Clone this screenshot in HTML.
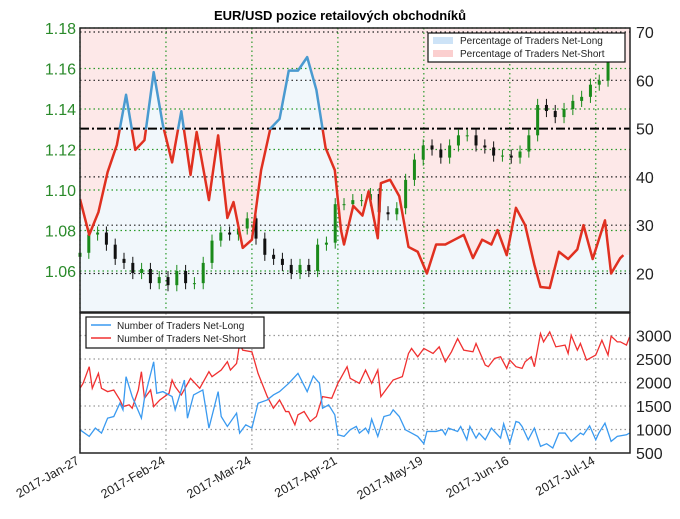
<!DOCTYPE html>
<html><head><meta charset="utf-8"><style>
html,body{margin:0;padding:0;background:#fff;}
svg{display:block;font-family:"Liberation Sans",sans-serif;}
</style></head><body>
<svg id="chart" width="680" height="519" viewBox="0 0 680 519">
<defs>
<clipPath id="topClip"><rect x="80" y="28" width="550" height="284"/></clipPath>
<clipPath id="aboveClip"><rect x="80" y="0" width="550" height="129.6"/></clipPath>
<clipPath id="belowClip"><rect x="80" y="129.6" width="550" height="200"/></clipPath>
<clipPath id="botClip"><rect x="80" y="313" width="550" height="140"/></clipPath>
</defs>
<text x="340" y="20" text-anchor="middle" font-size="13" font-weight="bold">EUR/USD pozice retailových obchodníků</text>
<g id="topPanel"></g>
<g id="botPanel"></g>
<g id="xlabels"></g>
</svg>
<script>
const dateLabels=["2017-Jan-27","2017-Feb-24","2017-Mar-24","2017-Apr-21","2017-May-19","2017-Jun-16","2017-Jul-14"];
const dateDays=[0,28,56,84,112,140,168];
const priceTicks=[1.06,1.08,1.10,1.12,1.14,1.16,1.18];
const pctTicks=[20,30,40,50,60,70];
const cntTicks=[500,1000,1500,2000,2500,3000];
const pctLong=[[0,35.4],[3,28],[6,32.7],[9,41],[12,46.6],[15,57],[18,45.6],[21,47.6],[24,61.7],[27,50.7],[30,43],[33,53.6],[36,40.4],[38,49.3],[42,35.2],[45,48.6],[48,31.5],[50,34.8],[53,25.3],[56,27],[59,41.4],[62,50],[65,52],[68,62],[71,62],[74,64.8],[77,58],[80,46],[83,41.4],[85,29],[86,26],[89,34],[92,32],[94,37],[97,27.3],[98,38.7],[101,39.4],[104,36],[107,25.5],[110,24.5],[113,20],[116,26],[119,26],[122,27],[125,28],[128,23.2],[131,27],[134,26],[136,29],[139,23.8],[142,33.6],[145,30],[148,21.8],[150,17.2],[153,17],[156,24.5],[159,23],[162,25],[164,30],[167,23],[171,31],[173,20],[176,23.2],[177,23.8]];
const closes=[1.069,1.078,1.079,1.073,1.066,1.064,1.059,1.061,1.054,1.057,1.053,1.060,1.054,1.054,1.064,1.075,1.079,1.078,1.081,1.086,1.076,1.068,1.066,1.063,1.059,1.063,1.060,1.073,1.074,1.093,1.093,1.095,1.095,1.098,1.089,1.088,1.091,1.105,1.115,1.122,1.120,1.116,1.122,1.127,1.127,1.122,1.121,1.117,1.117,1.116,1.119,1.127,1.142,1.139,1.136,1.140,1.144,1.146,1.152,1.154,1.164];
const netLong=[[0,994],[3,853],[5,1030],[7,924],[9,1241],[11,1276],[13,1559],[14,1418],[15,2124],[17,1700],[20,1241],[21,1665],[24,2441],[25,1770],[27,1806],[30,1700],[31,1418],[34,2053],[35,1241],[37,1735],[40,1841],[42,1030],[45,1806],[46,1276],[48,1065],[51,1347],[52,924],[54,1100],[56,1030],[58,1559],[61,1629],[63,1735],[65,1806],[68,1982],[71,2194],[74,1806],[76,2138],[78,1982],[79,1453],[81,1524],[83,1312],[84,888],[86,853],[88,994],[90,1065],[91,924],[93,1030],[94,924],[95,1220],[97,853],[99,1276],[101,1312],[102,1418],[104,1276],[106,994],[108,924],[110,853],[112,698],[113,959],[116,959],[118,994],[119,888],[120,1030],[123,959],[124,1065],[126,782],[127,1065],[129,818],[130,924],[132,782],[134,1030],[135,959],[137,818],[138,1121],[140,712],[142,1171],[143,1150],[144,1065],[146,782],[148,1030],[150,641],[152,698],[154,606],[156,924],[158,924],[160,747],[163,924],[164,888],[166,1079],[168,782],[169,924],[171,1135],[173,747],[175,853],[178,888],[179,924]];
const netShort=[[0,1877],[1,1982],[3,2336],[4,1877],[6,2194],[7,1877],[9,1806],[11,1841],[13,1629],[14,1488],[16,1524],[17,1453],[19,1841],[20,2230],[21,1665],[23,1841],[24,1488],[26,1629],[29,1770],[30,2053],[31,1912],[33,1735],[36,2089],[39,1877],[42,2230],[43,2124],[46,2265],[48,2441],[49,2265],[51,2406],[52,2830],[53,2689],[56,2653],[58,2194],[61,1700],[63,1453],[65,1629],[67,1382],[68,1382],[70,1100],[71,1312],[73,1382],[75,1171],[77,1276],[79,1700],[82,1665],[84,1982],[87,2336],[88,2089],[91,1982],[93,2265],[95,1982],[97,2265],[98,1700],[100,1877],[102,2053],[105,2124],[107,2618],[108,2724],[110,2547],[112,2724],[115,2618],[117,2759],[119,2441],[121,2653],[123,2935],[125,2689],[128,2653],[129,2830],[132,2371],[133,2336],[135,2512],[137,2547],[139,2300],[140,2477],[142,2336],[144,2300],[145,2441],[147,2547],[148,2336],[150,3042],[151,2865],[153,3077],[155,2759],[158,2795],[159,2618],[160,3006],[162,2689],[163,2830],[165,2477],[168,2583],[170,2900],[172,2583],[173,2985],[175,2865],[176,2865],[178,2795],[179,2971]];

const NS='http://www.w3.org/2000/svg';
const xDay=d=>80+d*3.07;
const yPct=v=>32+(70-v)*4.83;
const yPx=p=>28+(1.18-p)/0.02*40.5;
const yCnt=v=>453-(v-500)*23.5/500;
function mk(tag,attrs,parent){const e=document.createElementNS(NS,tag);for(const k in attrs)e.setAttribute(k,attrs[k]);parent.appendChild(e);return e;}
const topG=document.getElementById('topPanel'),botG=document.getElementById('botPanel'),xl=document.getElementById('xlabels');

const ptsStr=pctLong.map(p=>xDay(p[0])+','+yPct(p[1])).join(' ');
const first=pctLong[0],last=pctLong[pctLong.length-1];
let pink=mk('polygon',{points:'80,28 630,28 630,'+yPct(last[1])+' '+pctLong.slice().reverse().map(p=>xDay(p[0])+','+yPct(p[1])).join(' ')+' 80,'+yPct(first[1]),fill:'#fde8e8','clip-path':'url(#topClip)'},topG);


let blue=mk('polygon',{points:'80,312 80,'+yPct(first[1])+' '+ptsStr+' 630,'+yPct(last[1])+' 630,312',fill:'#f1f7fb','clip-path':'url(#topClip)'},topG);



priceTicks.forEach(p=>{const l=mk('line',{x1:80,x2:630,y1:yPx(p),y2:yPx(p),stroke:'#2a9a2a','stroke-dasharray':'1.5,3','stroke-width':1.2},topG);


const t=mk('text',{x:76,y:yPx(p)+6,'text-anchor':'end','font-size':16,fill:'#2a8a2a'},topG);t.textContent=p.toFixed(2);

});
pctTicks.forEach(v=>{if(v!==50){const l=mk('line',{x1:80,x2:630,y1:yPct(v),y2:yPct(v),stroke:'#222','stroke-dasharray':'1.5,3','stroke-width':1.2},topG);

}
const t=mk('text',{x:636,y:yPct(v)+6,'font-size':16,fill:'#222'},topG);t.textContent=v;

});
dateDays.forEach(d=>{const l=mk('line',{x1:xDay(d),x2:xDay(d),y1:28,y2:312,stroke:'#2a9a2a','stroke-dasharray':'1.5,3','stroke-width':1.2},topG);

});
const mid=mk('line',{x1:80,x2:630,y1:yPct(50),y2:yPct(50),stroke:'#000','stroke-width':2,'stroke-dasharray':'9,3,2,3'},topG);



const step=172/(closes.length-1);
closes.forEach((c,i)=>{const o=i?closes[i-1]:c-0.002;const x=xDay(i*step);const up=c>=o;const col=up?'#1a8a1a':'#111';
const hi=Math.max(o,c)+0.003,lo=Math.min(o,c)-0.003;
const w=mk('line',{x1:x,x2:x,y1:yPx(hi),y2:yPx(lo),stroke:col,'stroke-width':1},topG);


const r=mk('rect',{x:x-1.5,y:yPx(Math.max(o,c)),width:3,height:Math.max(1,Math.abs(yPx(o)-yPx(c))),fill:col},topG);

});

const pl1=mk('polyline',{points:ptsStr,fill:'none',stroke:'#4a9ad0','stroke-width':2.5,'clip-path':'url(#aboveClip)','stroke-linejoin':'round'},topG);


const pl2=mk('polyline',{points:ptsStr,fill:'none',stroke:'#e03020','stroke-width':2.5,'clip-path':'url(#belowClip)','stroke-linejoin':'round'},topG);


const fr=mk('rect',{x:80,y:28,width:550,height:284,fill:'none',stroke:'#222','stroke-width':1.5},topG);



const lg=mk('g',{},topG);


mk('rect',{x:428,y:33,width:197,height:29,fill:'#fff',stroke:'#111','stroke-width':1.2},lg);
mk('rect',{x:433,y:37,width:20,height:7,fill:'#cde3f7'},lg);
mk('rect',{x:433,y:50,width:20,height:7,fill:'#fbcfcf'},lg);
let t1=mk('text',{x:460,y:44,'font-size':10,fill:'#222'},lg);t1.textContent='Percentage of Traders Net-Long';


let t2=mk('text',{x:460,y:57,'font-size':10,fill:'#222'},lg);t2.textContent='Percentage of Traders Net-Short';



cntTicks.forEach(v=>{if(v>500){const l=mk('line',{x1:80,x2:630,y1:yCnt(v),y2:yCnt(v),stroke:'#999','stroke-dasharray':'1.5,3','stroke-width':1.2},botG);

}
const t=mk('text',{x:636,y:yCnt(v)+6,'font-size':16,fill:'#222'},botG);t.textContent=v;

});
dateDays.forEach(d=>{const l=mk('line',{x1:xDay(d),x2:xDay(d),y1:313,y2:453,stroke:'#999','stroke-dasharray':'1.5,3','stroke-width':1.2},botG);

});
const ls=mk('polyline',{points:netShort.map(p=>xDay(p[0])+','+yCnt(p[1])).join(' '),fill:'none',stroke:'#f03030','stroke-width':1.3,'clip-path':'url(#botClip)'},botG);


const ll=mk('polyline',{points:netLong.map(p=>xDay(p[0])+','+yCnt(p[1])).join(' '),fill:'none',stroke:'#3a9af0','stroke-width':1.3,'clip-path':'url(#botClip)'},botG);


const fr2=mk('rect',{x:80,y:313,width:550,height:140,fill:'none',stroke:'#222','stroke-width':1.5},botG);


const lg2=mk('g',{},botG);


mk('rect',{x:86,y:317,width:178,height:31,fill:'#fff',stroke:'#111','stroke-width':1.2},lg2);
mk('line',{x1:91,x2:111,y1:325,y2:325,stroke:'#3a9af0','stroke-width':1.5},lg2);
mk('line',{x1:91,x2:111,y1:338,y2:338,stroke:'#f03030','stroke-width':1.5},lg2);
let t3=mk('text',{x:117,y:329,'font-size':10,fill:'#222'},lg2);t3.textContent='Number of Traders Net-Long';


let t4=mk('text',{x:117,y:342,'font-size':10,fill:'#222'},lg2);t4.textContent='Number of Traders Net-Short';



dateLabels.forEach((s,i)=>{const x=xDay(dateDays[i]);const t=mk('text',{x:x,y:463,'text-anchor':'end','font-size':12.5,fill:'#222',transform:'rotate(-30 '+x+' 463)'},xl);t.textContent=s;

});
</script>
</body></html>
